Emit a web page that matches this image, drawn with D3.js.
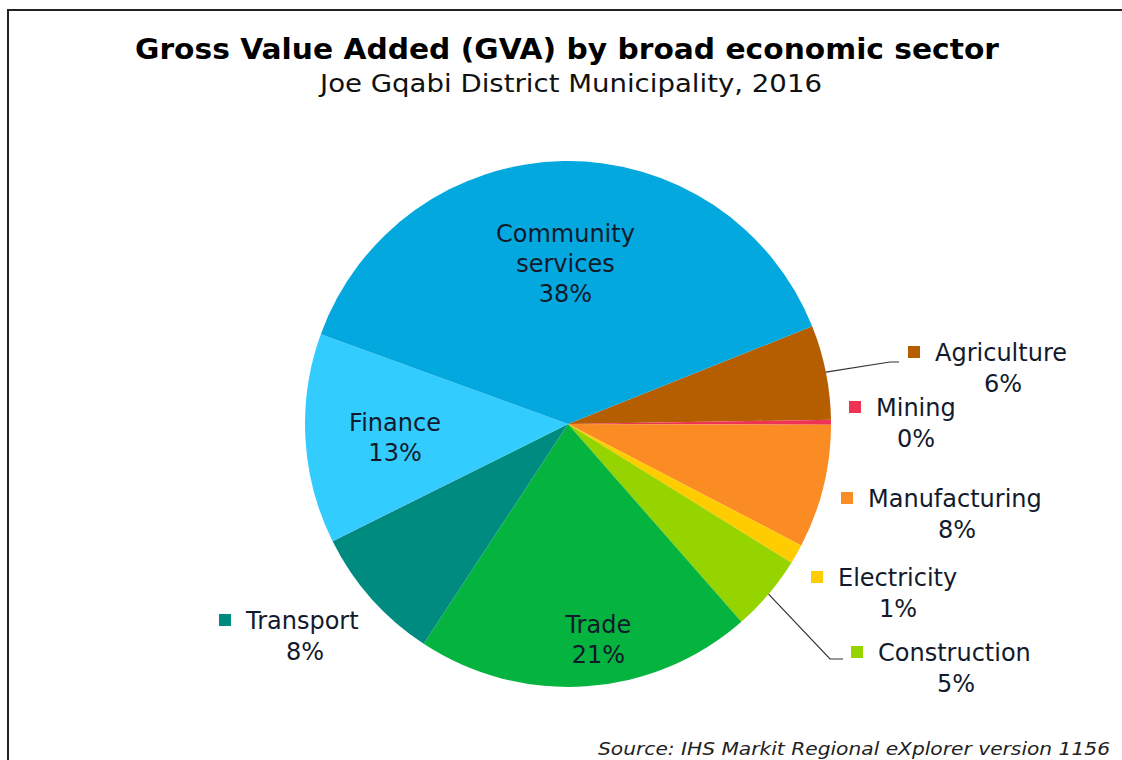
<!DOCTYPE html>
<html>
<head>
<meta charset="utf-8">
<script src="https://cdn.jsdelivr.net/npm/d3@7/dist/d3.min.js"></script>
<style>
  html, body { margin: 0; padding: 0; background: #fff; }
  svg { display: block; }
  text { font-family: "DejaVu Sans", Verdana, sans-serif; fill: #121a2c; }
</style>
</head>
<body>
<svg id="chart" width="1122" height="760"></svg>
<script>
// GVA shares by broad economic sector (per cent), clockwise from Agriculture
const sectors = ["Agriculture", "Mining", "Manufacturing", "Electricity", "Construction",
                 "Trade", "Transport", "Finance", "Community services"];
const shares  = [5.8, 0.3, 7.6, 1.2, 4.7, 20.7, 8.4, 12.9, 38.4];
const colors  = ["#b55e00", "#ee3355", "#fb8c23", "#ffcc00", "#96d400",
                 "#05b33f", "#008b80", "#33ccff", "#02a8de"];

const titleText = "Gross Value Added (GVA) by broad economic sector";
const subtitleText = "Joe Gqabi District Municipality, 2016";
const sourceText = "Source: IHS Markit Regional eXplorer version 1156";

const W = 1122, H = 760;
const cx = 568, cy = 424, R = 263;
const startDeg = 68.2;

const svg = d3.select("#chart");

// frame around the chart area
svg.append("path")
  .attr("d", `M8,${H + 5} L8,10 L${W + 5},10`)
  .attr("fill", "none").attr("stroke", "#222").attr("stroke-width", 2);

// titles
svg.append("text").attr("x", 567).attr("y", 59).attr("text-anchor", "middle")
  .style("font-weight", "bold").style("font-size", "28px").style("fill", "#000")
  .attr("textLength", 864).attr("lengthAdjust", "spacingAndGlyphs")
  .text(titleText);
svg.append("text").attr("x", 571).attr("y", 92).attr("text-anchor", "middle")
  .style("font-size", "24px").style("fill", "#111")
  .attr("textLength", 502).attr("lengthAdjust", "spacingAndGlyphs")
  .text(subtitleText);

// pie
const data = sectors.map((s, i) => ({ sector: s, value: shares[i], color: colors[i] }));
const pie = d3.pie().sort(null).value(d => d.value)
  .startAngle(startDeg * Math.PI / 180)
  .endAngle((startDeg + 360) * Math.PI / 180);
const arcs = pie(data);
const arc = d3.arc().innerRadius(0).outerRadius(R);

const g = svg.append("g").attr("transform", `translate(${cx},${cy})`);
g.selectAll("path.slice").data(arcs).join("path")
  .attr("class", "slice")
  .attr("d", arc)
  .attr("fill", d => d.data.color);

const pct = v => `${Math.round(v)}%`;

// labels drawn inside their slices: label lines, radius factor, angle shift (deg)
const insideLayout = {
  "Community services": { lines: ["Community", "services"], rf: 0.61, shift: 0 },
  "Finance":            { lines: ["Finance"], rf: 0.66, shift: -1.5 },
  "Trade":              { lines: ["Trade"], rf: 0.83, shift: -4 }
};
const lineH = 30;
arcs.filter(a => insideLayout[a.data.sector]).forEach(a => {
  const L = insideLayout[a.data.sector];
  const mid = (a.startAngle + a.endAngle) / 2 + L.shift * Math.PI / 180;
  const x = Math.sin(mid) * R * L.rf, y = -Math.cos(mid) * R * L.rf;
  const lines = L.lines.concat([pct(a.data.value)]);
  const t = g.append("text").attr("text-anchor", "middle").style("font-size", "24px");
  lines.forEach((ln, i) => {
    t.append("tspan").attr("x", x)
      .attr("y", y + (i - (lines.length - 1) / 2) * lineH + 8)
      .text(ln);
  });
});

// labels outside the pie with a colour key, some with a leader line
const outsideLayout = {
  "Agriculture":   { x: 935, y: 361, cx: 1003, leader: [[890, 362], [899, 362]] },
  "Mining":        { x: 876, y: 416, cx: 916 },
  "Manufacturing": { x: 868, y: 507, cx: 957 },
  "Electricity":   { x: 838, y: 586, cx: 898 },
  "Construction":  { x: 878, y: 661, cx: 956, leader: [[830, 659], [843, 659]] },
  "Transport":     { x: 246, y: 629, cx: 305 }
};
arcs.filter(a => outsideLayout[a.data.sector]).forEach(a => {
  const L = outsideLayout[a.data.sector];
  svg.append("rect").attr("x", L.x - 27).attr("y", L.y - 15)
    .attr("width", 12).attr("height", 12).attr("fill", a.data.color);
  svg.append("text").attr("x", L.x).attr("y", L.y).style("font-size", "24px")
    .text(a.data.sector);
  svg.append("text").attr("x", L.cx).attr("y", L.y + 31).attr("text-anchor", "middle")
    .style("font-size", "24px").text(pct(a.data.value));
  if (L.leader) {
    const mid = (a.startAngle + a.endAngle) / 2;
    const p0 = [cx + Math.sin(mid) * R, cy - Math.cos(mid) * R];
    svg.append("path")
      .attr("d", d3.line()([p0].concat(L.leader)))
      .attr("fill", "none").attr("stroke", "#333").attr("stroke-width", 1.2);
  }
});

// source note
svg.append("text").attr("x", 1110).attr("y", 755).attr("text-anchor", "end")
  .style("font-size", "18px").style("font-style", "italic").style("fill", "#222")
  .attr("textLength", 512).attr("lengthAdjust", "spacingAndGlyphs")
  .text(sourceText);
</script>
</body>
</html>
